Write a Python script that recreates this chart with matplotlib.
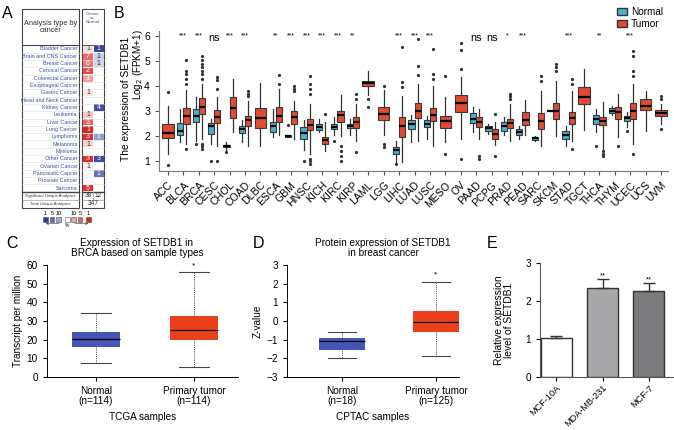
import numpy as np
import matplotlib.pyplot as plt
from matplotlib.patches import Rectangle, Patch

plt.rcParams['font.family'] = ['Liberation Sans', 'DejaVu Sans']

# ---- panel A (Oncomine summary) ----
a_types = ['Bladder Cancer', 'Brain and CNS Cancer', 'Breast Cancer', 'Cervical Cancer',
           'Colorectal Cancer', 'Esophageal Cancer', 'Gastric Cancer', 'Head and Neck Cancer',
           'Kidney Cancer', 'Leukemia', 'Liver Cancer', 'Lung Cancer', 'Lymphoma', 'Melanoma',
           'Myeloma', 'Other Cancer', 'Ovarian Cancer', 'Pancreatic Cancer', 'Prostate Cancer',
           'Sarcoma']
up_counts = [1, 7, 6, 2, 3, None, 1, None, None, 1, 3, 1, 3, 1, None, 3, 1, None, None, 5]
up_shade = [0.15, 0.65, 0.6, 0.78, 0.43, None, 0.12, None, None, 0.25, 0.68, 1.0, 0.92, 0.2,
            None, 0.94, 0.08, None, None, 0.92]
down_counts = [1, 1, 1, None, None, None, None, None, 4, None, None, None, 1, None,
               None, 3, None, 1, None, None]
down_shade = [0.95, 0.25, 0.22, None, None, None, None, None, 0.9, None, None, None, 0.5, None,
              None, 0.92, None, 0.72, None, None]
sig_unique = [38, 12]
total_unique = 347

# ---- panel B (TCGA pan-cancer) ----
cancers = ['ACC', 'BLCA', 'BRCA', 'CESC', 'CHOL', 'COAD', 'DLBC', 'ESCA', 'GBM', 'HNSC', 'KICH',
           'KIRC', 'KIRP', 'LAML', 'LGG', 'LIHC', 'LUAD', 'LUSC', 'MESO', 'OV', 'PAAD', 'PCPG',
           'PRAD', 'PEAD', 'SARC', 'SKCM', 'STAD', 'TGCT', 'THCA', 'THYM', 'UCEC', 'UCS', 'UVM']
# [whislo, q1, med, q3, whishi]
tumor_stats = [
    [1.3, 1.91, 2.11, 2.47, 3.21], [1.7, 2.47, 2.80, 3.11, 3.85], [1.9, 2.88, 3.17, 3.51, 4.1],
    [1.6, 2.51, 2.77, 3.04, 3.55], [2.15, 2.71, 3.13, 3.55, 4.3], [1.6, 2.40, 2.64, 2.81, 3.4],
    [1.6, 2.31, 2.71, 3.11, 4.12], [2.05, 2.57, 2.80, 3.17, 3.9], [1.9, 2.48, 2.75, 3.0, 3.4],
    [1.3, 2.24, 2.44, 2.68, 3.3], [1.4, 1.67, 1.84, 1.97, 2.55], [2.0, 2.57, 2.83, 3.01, 3.65],
    [1.8, 2.31, 2.57, 2.75, 3.3], [3.65, 4.0, 4.11, 4.21, 4.6], [2.05, 2.64, 2.88, 3.17, 3.85],
    [0.96, 1.97, 2.40, 2.75, 3.6], [1.8, 2.71, 3.0, 3.31, 4.1], [1.6, 2.61, 2.84, 3.13, 4.0],
    [1.75, 2.33, 2.61, 2.81, 3.55], [1.9, 2.97, 3.33, 3.64, 4.35], [1.9, 2.35, 2.57, 2.75, 3.1],
    [1.65, 1.87, 2.08, 2.27, 2.55], [1.8, 2.31, 2.51, 2.69, 3.3], [2.05, 2.43, 2.64, 2.95, 3.45],
    [1.6, 2.27, 2.6, 2.93, 3.8], [2.0, 2.68, 3.01, 3.33, 4.2], [1.8, 2.47, 2.71, 2.97, 3.8],
    [2.25, 3.28, 3.57, 3.95, 4.7], [1.5, 2.44, 2.61, 2.77, 3.35], [1.95, 2.67, 2.95, 3.17, 3.7],
    [1.7, 2.68, 3.0, 3.33, 4.1], [2.2, 3.04, 3.21, 3.48, 3.8], [2.5, 2.80, 2.93, 3.04, 3.3]]
tumor_fliers = [
    [3.75, 0.85], [4.1, 4.3, 4.5, 4.6, 5.05, 1.5], [4.3, 4.5, 4.6, 4.75, 4.9, 5.05, 5.2, 1.7, 1.6, 1.5],
    [3.9, 4.25, 4.35, 1.0], [], [3.6, 3.7, 3.8], [], [4.1, 4.45], [3.8, 3.9, 4.0],
    [3.7, 3.9, 4.1, 4.4, 1.1, 1.0, 0.9], [2.9], [1.6, 1.4, 1.2, 1.0], [3.5, 3.7, 1.35], [3.5, 3.15],
    [4.0, 1.55, 1.7], [3.97, 4.17, 5.57], [4.44, 4.8, 5.87], [4.3, 4.5, 5.48], [4.4, 1.3],
    [4.7, 5.45, 5.72, 1.1], [1.2, 1.1], [2.9, 1.2], [3.5, 3.6, 3.7], [], [4.2, 4.4],
    [4.6, 4.75, 4.9], [4.1, 4.3, 1.5], [], [1.4, 1.3, 1.2], [1.6], [4.4, 4.6, 5.2, 5.4, 1.3],
    [], [3.5, 3.6, 2.3]]
normal_stats = [
    None, [1.75, 2.04, 2.21, 2.51, 3.08], [1.8, 2.57, 2.80, 3.07, 3.55], [1.7, 2.07, 2.40, 2.51, 2.7],
    [1.45, 1.55, 1.6, 1.64, 1.75], [1.75, 2.13, 2.27, 2.40, 2.65], None, [1.95, 2.15, 2.40, 2.57, 3.1],
    [1.95, 1.97, 2.0, 2.04, 2.05], [1.45, 1.88, 2.13, 2.35, 2.65], [2.15, 2.24, 2.35, 2.47, 2.7],
    [2.05, 2.27, 2.37, 2.47, 2.75], [2.05, 2.31, 2.40, 2.47, 2.7], None, None,
    [0.95, 1.28, 1.44, 1.57, 1.8], [1.75, 2.27, 2.48, 2.64, 2.85], [1.9, 2.35, 2.48, 2.64, 2.8],
    None, None, [2.15, 2.53, 2.68, 2.91, 3.15], [2.1, 2.21, 2.31, 2.40, 2.5],
    [2.05, 2.21, 2.40, 2.57, 2.75], [1.9, 2.04, 2.15, 2.27, 2.4], [1.8, 1.84, 1.91, 1.97, 2.0],
    [3.0, 3.0, 3.01, 3.02, 3.02], [1.6, 1.88, 2.04, 2.21, 2.4], None,
    [2.15, 2.48, 2.68, 2.84, 3.1], [2.85, 2.93, 3.01, 3.11, 3.2], [2.35, 2.6, 2.71, 2.80, 2.95],
    None, None]
normal_fliers = {2: [1.7], 3: [1.0], 4: [1.35], 8: [2.45], 9: [1.0], 11: [1.8], 15: [0.9],
                 28: [1.6], 30: [2.2]}
signif = ['', '***', '***', 'ns', '***', '***', '', '**', '***', '***', '***', '***', '**', '', '',
          '***', '***', '***', '', '', 'ns', 'ns', '*', '***', '', '', '***', '', '**', '', '***', '', '']

# ---- panel C / D ----
c_groups = ['Normal\n(n=114)', 'Primary tumor\n(n=114)']
c_stats = [[7.3, 16.0, 20.3, 24.0, 34.2], [5.5, 19.6, 25.3, 32.8, 56.0]]
d_groups = ['Normal\n(n=18)', 'Primary tumor\n(n=125)']
d_stats = [[-2.0, -1.57, -1.05, -0.93, -0.6], [-1.85, -0.58, -0.05, 0.55, 2.1]]

# ---- panel E ----
cell_lines = ['MCF-10A', 'MDA-MB-231', 'MCF-7']
rel_expr = [1.03, 2.35, 2.26]
rel_err = [0.05, 0.24, 0.22]
e_signif = ['', '**', '**']

BLUE_B = '#46B1D2'
RED_B = '#E24A31'

fig = plt.figure(figsize=(6.74, 4.30), dpi=100)


def px_axes(l, t, r, b):
    return fig.add_axes([l / 674, 1 - b / 430, (r - l) / 674, (b - t) / 430])


def to_stats(s, fl=()):
    return dict(whislo=s[0], q1=s[1], med=s[2], q3=s[3], whishi=s[4], fliers=list(fl))


# ================= B =================
axB = px_axes(159, 31, 668, 171)
n_pos, n_st, t_pos, t_st, t_w = [], [], [], [], []
for i in range(len(cancers)):
    if normal_stats[i] is None:
        t_pos.append(i)
        t_w.append(0.75)
    else:
        n_pos.append(i - 0.2)
        n_st.append(to_stats(normal_stats[i], normal_fliers.get(i, [])))
        t_pos.append(i + 0.2)
        t_w.append(0.4)
    t_st.append(to_stats(tumor_stats[i], tumor_fliers[i]))

common = dict(patch_artist=True, showcaps=False,
              medianprops=dict(color='black', lw=1.6),
              whiskerprops=dict(color='#333333', lw=0.9),
              flierprops=dict(marker='o', markersize=1.3, markerfacecolor='#333333',
                              markeredgecolor='#333333'))
axB.bxp(n_st, positions=n_pos, widths=0.4, manage_ticks=False,
        boxprops=dict(facecolor=BLUE_B, edgecolor='#3a3a3a', lw=0.8), **common)
axB.bxp(t_st, positions=t_pos, widths=t_w, manage_ticks=False,
        boxprops=dict(facecolor=RED_B, edgecolor='#3a3a3a', lw=0.8), **common)

axB.set_xlim(-0.58, 32.45)
axB.set_ylim(0.6, 6.2)
axB.set_yticks([1, 2, 3, 4, 5, 6])
axB.set_xticks(range(len(cancers)))
axB.set_xticklabels(cancers, rotation=45, ha='right', rotation_mode='anchor', fontsize=7.6)
axB.tick_params(axis='y', labelsize=7.6, length=3, color='#555555')
axB.tick_params(axis='x', length=3, color='#555555')
for sp in ['top', 'right']:
    axB.spines[sp].set_visible(False)
for sp in ['left', 'bottom']:
    axB.spines[sp].set_color('#777777')
fig.text(126 / 674, 1 - 99 / 430, 'The expression of SETDB1', rotation=90,
         ha='center', va='center', fontsize=7.4)
fig.text(138 / 674, 1 - 65 / 430, 'Log$_2$ (FPKM+1)', rotation=90,
         ha='center', va='center', fontsize=7.1)
for i, s in enumerate(signif):
    if s == 'ns':
        axB.text(i, 5.93, s, ha='center', va='center', fontsize=7.8, clip_on=False)
    elif s:
        axB.text(i, 6.0, s, ha='center', va='center', fontsize=5, clip_on=False)
fig.legend(handles=[Patch(facecolor=BLUE_B, edgecolor='#333333'),
                    Patch(facecolor=RED_B, edgecolor='#333333')],
           labels=['Normal', 'Tumor'], loc='upper right', bbox_to_anchor=(0.997, 1.005),
           frameon=False, fontsize=7.2, handlelength=1.0, handleheight=0.7,
           handletextpad=0.4, labelspacing=0.2)


# ================= C / D =================
def gepia_box(ax, stats, groups, colors, xlim, ylim, yticks, ylabel, xlabel, star_y):
    st = [to_stats(s) for s in stats]
    bp = ax.bxp(st, positions=[0, 1], widths=0.49, patch_artist=True, manage_ticks=False,
                boxprops=dict(lw=0),
                medianprops=dict(color='black', lw=0.9),
                whiskerprops=dict(color='#444444', lw=0.7, linestyle=(0, (1, 1.2))),
                capprops=dict(color='#444444', lw=0.8), capwidths=0.3)
    for b, c in zip(bp['boxes'], colors):
        b.set_facecolor(c)
    ax.set_xlim(*xlim)
    ax.set_ylim(*ylim)
    ax.set_yticks(yticks)
    ax.set_xticks([0, 1])
    ax.set_xticklabels(groups, fontsize=7.2, linespacing=1.0)
    ax.tick_params(axis='y', labelsize=7.2, length=3)
    ax.tick_params(axis='x', length=3)
    ax.set_ylabel(ylabel, fontsize=7.2, labelpad=3)
    ax.set_xlabel(xlabel, fontsize=7.2, labelpad=4)
    for sp in ['top', 'right']:
        ax.spines[sp].set_visible(False)
    for sp in ['left', 'bottom']:
        ax.spines[sp].set_linewidth(0.7)
    ax.text(1, star_y, '*', ha='center', va='center', fontsize=6, clip_on=False)


axC = px_axes(47, 265, 238, 377)
gepia_box(axC, c_stats, c_groups, ['#4356B8', '#EC3F1B'], (-0.5, 1.45), (0, 60),
          range(0, 61, 10), 'Transcript per million', 'TCGA samples', 59.7)
fig.text(137 / 674, 1 - 248 / 430, 'Expression of SETDB1 in\nBRCA based on sample types',
         ha='center', va='center', fontsize=7.2, linespacing=1.0)

axD = px_axes(287, 265, 459, 377)
gepia_box(axD, d_stats, d_groups, ['#4356B8', '#EC3F1B'], (-0.585, 1.245), (-3, 3),
          range(-3, 4), 'Z-value', 'CPTAC samples', 2.45)
fig.text(383 / 674, 1 - 248 / 430, 'Protein expression of SETDB1\nin breast cancer',
         ha='center', va='center', fontsize=7.2, linespacing=1.0)

# ================= E =================
axE = px_axes(540, 263, 673, 377)
xe = np.arange(len(cell_lines))
axE.bar(xe, rel_expr, width=0.67, color=['white', '#A8A8AA', '#7C7C7E'],
        edgecolor='#333333', lw=1.0)
axE.errorbar(xe, rel_expr, yerr=[[0, 0, 0], rel_err], fmt='none', ecolor='#333333',
             elinewidth=1.0, capsize=4, capthick=1.0)
for x, v, e, s in zip(xe, rel_expr, rel_err, e_signif):
    if s:
        axE.text(x, v + e + 0.08, s, ha='center', va='center', fontsize=5.5)
axE.set_xlim(-0.35, 2.52)
axE.set_ylim(0, 3)
axE.set_yticks([0, 1, 2, 3])
axE.set_xticks(xe)
axE.set_xticklabels(cell_lines, rotation=45, ha='right', rotation_mode='anchor', fontsize=6.6)
axE.tick_params(axis='y', labelsize=7.2, length=3)
axE.tick_params(axis='x', length=3, pad=1.5)
axE.set_ylabel('Relative expression\nlevel of SETDB1', fontsize=7.4, labelpad=8, linespacing=1.0)
for sp in ['top', 'right']:
    axE.spines[sp].set_visible(False)
for sp in ['left', 'bottom']:
    axE.spines[sp].set_color('#555555')

# ================= A + panel letters (pixel overlay) =================
ov = fig.add_axes([0, 0, 1, 1])
ov.set_xlim(0, 674)
ov.set_ylim(430, 0)
ov.axis('off')

for lab, (x, y) in zip('ABCDE', [(7, 13), (119, 13), (12, 243), (258, 243), (492, 243)]):
    ov.text(x, y, lab, fontsize=11.5, ha='center', va='center')

TXT = '#3452A4'
row_h = 7.32
top = 45.3
ov.add_patch(Rectangle((22, 9), 57, 199, fill=False, lw=0.8, ec='#444444'))
ov.add_patch(Rectangle((82, 9), 22, 199, fill=False, lw=0.8, ec='#444444'))
ov.plot([22, 79], [top, top], color='#444444', lw=0.8)
ov.plot([82, 104], [top, top], color='#444444', lw=0.6)
ov.text(50.5, 27, 'Analysis type by\ncancer', ha='center', va='center', fontsize=5.3,
        linespacing=1.1, color='#333333')
ov.text(93, 18, 'Cancer\nvs.\nNormal', ha='center', va='center', fontsize=3.2, color=TXT,
        linespacing=1.0)


def shade(base, s):
    base = np.array(plt.matplotlib.colors.to_rgb(base))
    return tuple(1 - s * (1 - base))


for i, name in enumerate(a_types):
    y0 = top + i * row_h
    yc = y0 + row_h / 2
    ov.text(77.5, yc, name, ha='right', va='center', fontsize=3.9, color=TXT)
    ov.plot([22, 79], [y0 + row_h, y0 + row_h], color='#DDDDDD', lw=0.4)
    ov.plot([82, 104], [y0 + row_h, y0 + row_h], color='#DDDDDD', lw=0.4)
    if up_counts[i] is not None:
        ov.add_patch(Rectangle((83, y0 + 0.4), 10, row_h - 0.8, fc=shade('#E31A1C', up_shade[i]),
                               ec='none'))
        ov.text(88, yc, str(up_counts[i]), ha='center', va='center', fontsize=5,
                color='white' if up_shade[i] > 0.4 else '#333333')
    if down_counts[i] is not None:
        ov.add_patch(Rectangle((93.5, y0 + 0.4), 10, row_h - 0.8,
                               fc=shade('#283C9C', down_shade[i]), ec='none'))
        ov.text(98.5, yc, str(down_counts[i]), ha='center', va='center', fontsize=5,
                color='white' if down_shade[i] > 0.4 else '#333333')

y_sum = top + 20 * row_h
ov.plot([22, 79], [y_sum, y_sum], color='#444444', lw=1.0)
ov.plot([82, 104], [y_sum, y_sum], color='#444444', lw=1.0)
ov.plot([22, 79], [y_sum + 8, y_sum + 8], color='#888888', lw=0.4)
ov.plot([82, 104], [y_sum + 8, y_sum + 8], color='#888888', lw=0.4)
ov.plot([93.3, 93.3], [y_sum, y_sum + 8], color='#888888', lw=0.4)
ov.text(50.5, y_sum + 4, 'Significant Unique Analyses', ha='center', va='center', fontsize=3,
        color='#333333')
ov.text(50.5, y_sum + 12, 'Total Unique Analyses', ha='center', va='center', fontsize=3,
        color='#333333')
ov.text(88, y_sum + 4, str(sig_unique[0]), ha='center', va='center', fontsize=4.8, color='#333333')
ov.text(98.5, y_sum + 4, str(sig_unique[1]), ha='center', va='center', fontsize=4.8,
        color='#333333')
ov.text(93, y_sum + 12, str(total_unique), ha='center', va='center', fontsize=4.8, color='#333333')

# rank legend
leg_cols = ['#283C9C', '#5C6BC0', '#9FA8DA', 'white', '#F2A5A5', '#E86060', '#E31A1C']
leg_x = [43, 49.5, 56, 65, 71, 77.5, 86]
for x, c in zip(leg_x, leg_cols):
    ov.add_patch(Rectangle((x, 216.5), 4.8, 5, fc=c, ec='#555555', lw=0.4))
for x, t in zip([45.4, 51.9, 58.4, 73.4, 79.9, 88.4], ['1', '5', '10', '10', '5', '1']):
    ov.text(x, 213.5, t, ha='center', va='center', fontsize=4)
ov.annotate('', xy=(43, 223.5), xytext=(62, 223.5),
            arrowprops=dict(arrowstyle='->', lw=0.4, color='#333333', mutation_scale=4))
ov.annotate('', xy=(91, 223.5), xytext=(72, 223.5),
            arrowprops=dict(arrowstyle='->', lw=0.4, color='#333333', mutation_scale=4))
ov.text(67.4, 225.5, '%', ha='center', va='center', fontsize=3.5)

fig.savefig('out.png', dpi=100)
